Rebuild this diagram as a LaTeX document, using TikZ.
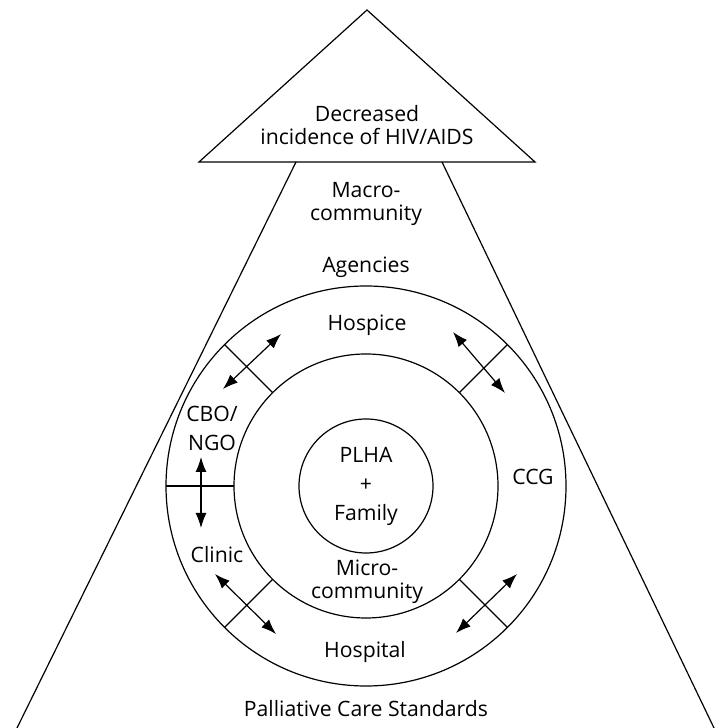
\documentclass[tikz,border=0pt]{standalone}
\usepackage{fontspec}
\setmainfont{Open Sans}
\usepackage{tikz}
\usetikzlibrary{arrows.meta}

\tikzset{
    lbl/.style={align=center, inner sep=0pt, font=\fontsize{10.6}{11.5}\selectfont},
    ring/.style={circle, draw, outer sep=0pt, inner sep=0pt},
    dbl/.style={{Latex[length=7.5pt,width=5.5pt]}-{Latex[length=7.5pt,width=5.5pt]}}
}

\begin{document}
\begin{tikzpicture}[x=0.5pt, y=0.5pt, line width=0.6pt]
    \useasboundingbox (0,0) rectangle (723,728);

    % top triangle
    \coordinate (apex) at (367,718);
    \coordinate (tl) at (199,566);
    \coordinate (tr) at (535,566);
    \draw (tl) -- (apex) -- (tr) -- cycle;
    \node[lbl] (goal) at (367,603) {Decreased\\incidence of HIV/AIDS};

    % big triangle
    \coordinate (sl) at (296,566);
    \coordinate (sr) at (442,566);
    \coordinate (bl) at (17,0);
    \coordinate (br) at (714,0);
    \draw (sl) -- (bl);
    \draw (sr) -- (br);

    % circles
    \node[ring, minimum size=200pt] (outer) at (366,242) {};
    \node[ring, minimum size=132pt] (mid) at (366,242) {};
    \node[ring, minimum size=67pt, lbl] (inner) at (366,242) {PLHA\\[3pt]+\\[3pt]Family};

    \draw (mid.135) -- (outer.135);
    \draw (mid.45) -- (outer.45);
    \draw (mid.180) -- (outer.180);
    \draw (mid.225) -- (outer.225);
    \draw (mid.315) -- (outer.315);

    % labels
    \node[lbl] (macro) at (366,524) {Macro-\\community};
    \node[lbl] (agencies) at (366,461) {Agencies};
    \node[lbl] (hospice) at (367,403) {Hospice};
    \node[lbl] (cbo) at (212,300) {CBO/\\[3pt]NGO};
    \node[lbl] (ccg) at (533,251) {CCG};
    \node[lbl] (clinic) at (217,173) {Clinic};
    \node[lbl] (micro) at (367,146) {Micro-\\community};
    \node[lbl] (hospital) at (365,76) {Hospital};
    \node[lbl] (standards) at (366,19) {Palliative Care Standards};

    % arrows
    \coordinate (a1) at (223,339);
    \coordinate (a2) at (281,394);
    \coordinate (b1) at (453,396);
    \coordinate (b2) at (505,335);
    \coordinate (c1) at (201,271);
    \coordinate (c2) at (201,200);
    \coordinate (d1) at (215,154);
    \coordinate (d2) at (276,94);
    \coordinate (e1) at (456,95);
    \coordinate (e2) at (517,154);
    \draw[dbl] (a1) -- (a2);
    \draw[dbl] (b1) -- (b2);
    \draw[dbl] (c1) -- (c2);
    \draw[dbl] (d1) -- (d2);
    \draw[dbl] (e1) -- (e2);
\end{tikzpicture}
\end{document}
